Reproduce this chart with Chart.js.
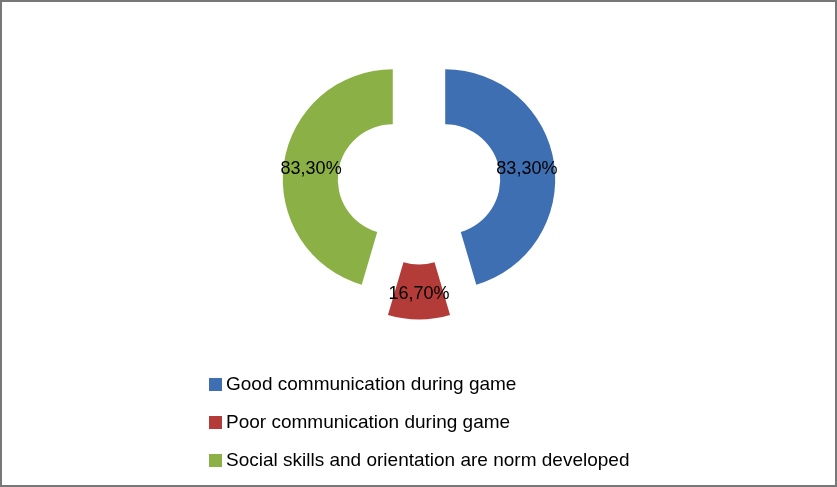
<!DOCTYPE html>
<html>
<head>
<meta charset="utf-8">
<script src="https://cdn.jsdelivr.net/npm/chart.js@4/dist/chart.umd.min.js"></script>
<style>
  html, body { margin: 0; padding: 0; background: #fff; }
  #wrap { position: relative; width: 837px; height: 487px; overflow: hidden; }
  #c { position: absolute; left: 0; top: 0; }
  #frame { position: absolute; left: 0; top: 0; width: 837px; height: 487px; box-sizing: border-box;
           border: 2px solid #777777; pointer-events: none; }
  #legend { position: absolute; left: 209px; top: 0; font-family: 'Liberation Sans', Arial, sans-serif;
            font-size: 19px; color: #000; }
  .row { position: absolute; left: 0; white-space: nowrap; height: 21px; line-height: 21px; }
  .sw { position: absolute; left: 0; top: 5px; width: 13px; height: 13px; }
  .tx { position: absolute; left: 17px; top: 0; }
</style>
</head>
<body>
<div id="wrap">
  <canvas id="c" width="837" height="487"></canvas>
  <div id="legend"></div>
  <div id="frame"></div>
</div>
<script>
const categories = [
  'Good communication during game',
  'Poor communication during game',
  'Social skills and orientation are norm developed'
];
const values = [83.3, 16.7, 83.3];
const valueLabels = ['83,30%', '16,70%', '83,30%'];
const sliceColors = ['#3D6FB2', '#B43C38', '#8AB046'];
const EXPLODE = 26.5; // px each slice is pulled away from the centre

// Pull every slice out along its mid-angle (exploded doughnut)
const explode = {
  id: 'explode',
  afterDatasetsUpdate(chart) {
    const meta = chart.getDatasetMeta(0);
    meta.data.forEach(el => {
      const h = (el.startAngle + el.endAngle) / 2;
      el.x += Math.cos(h) * EXPLODE;
      el.y += Math.sin(h) * EXPLODE;
    });
  }
};

const sliceLabels = {
  id: 'sliceLabels',
  afterDatasetsDraw(chart) {
    const ctx = chart.ctx;
    const meta = chart.getDatasetMeta(0);
    ctx.save();
    ctx.font = '18px "Liberation Sans", Arial, sans-serif';
    ctx.fillStyle = '#000';
    ctx.textAlign = 'center';
    ctx.textBaseline = 'middle';
    meta.data.forEach((el, i) => {
      const p = el.tooltipPosition();
      ctx.fillText(valueLabels[i], p.x, p.y + 2);
    });
    ctx.restore();
  }
};

new Chart(document.getElementById('c'), {
  type: 'doughnut',
  data: {
    labels: categories,
    datasets: [{
      data: values,
      backgroundColor: sliceColors,
      borderWidth: 0,
      clip: false
    }]
  },
  options: {
    responsive: false,
    animation: false,
    radius: 110,
    cutout: '50%',
    layout: { padding: { left: 1, right: 0, top: 0, bottom: 121 } },
    plugins: {
      legend: { display: false },
      tooltip: { enabled: false }
    }
  },
  plugins: [explode, sliceLabels]
});

const legend = document.getElementById('legend');
categories.forEach((name, i) => {
  const row = document.createElement('div');
  row.className = 'row';
  row.style.top = (373 + i * 38) + 'px';
  const sw = document.createElement('span');
  sw.className = 'sw';
  sw.style.background = sliceColors[i];
  const tx = document.createElement('span');
  tx.className = 'tx';
  tx.textContent = name;
  row.appendChild(sw);
  row.appendChild(tx);
  legend.appendChild(row);
});
</script>
</body>
</html>
